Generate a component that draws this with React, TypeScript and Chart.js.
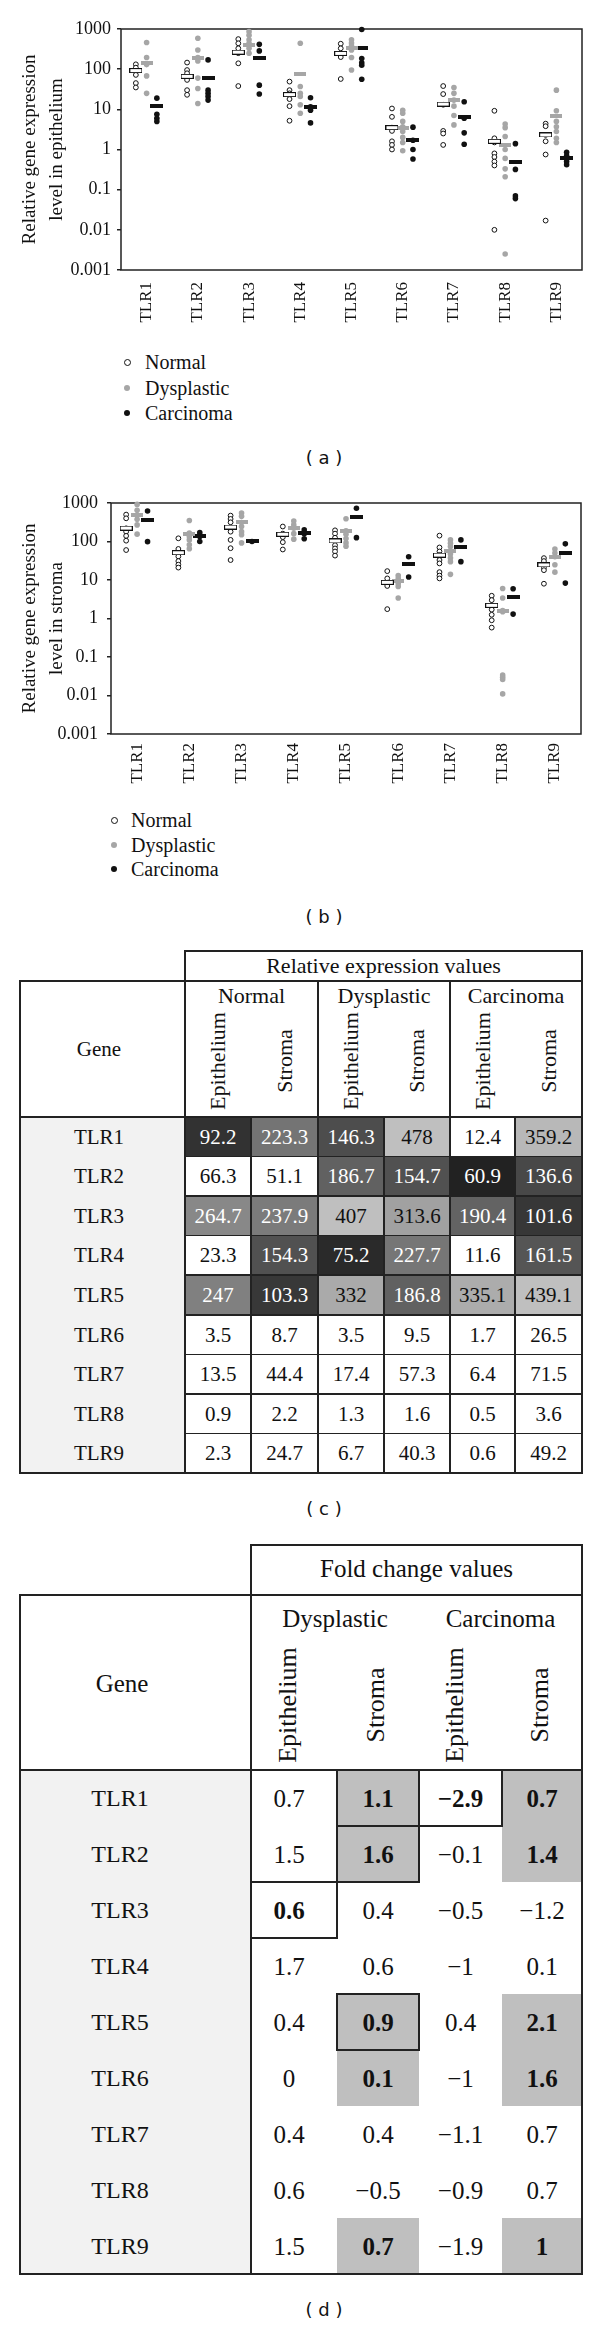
import React, { useEffect, useRef } from 'react';
import { Chart, registerables } from 'chart.js';

Chart.register(...registerables);

const SERIF = '"Liberation Serif", "Times New Roman", serif';
const SANS = '"DejaVu Sans", "Liberation Sans", sans-serif';
const INK = '#111';

// ---------- categories / ticks ----------
const categories = ['TLR1', 'TLR2', 'TLR3', 'TLR4', 'TLR5', 'TLR6', 'TLR7', 'TLR8', 'TLR9'];
const yTickValues = [0.001, 0.01, 0.1, 1, 10, 100, 1000];
const yTickLabels = ['0.001', '0.01', '0.1', '1', '10', '100', '1000'];
const groupNames = ['Normal', 'Dysplastic', 'Carcinoma'];
const tissueNames = ['Epithelium', 'Stroma'];

// ---------- individual samples, epithelium (panel a) ----------
const epiNormal = [
  [132, 109, 72, 45, 35],
  [146, 95, 79, 54, 30, 23],
  [560, 440, 330, 250, 140, 38],
  [49, 30, 25, 18, 12, 5.2],
  [430, 330, 240, 200, 57],
  [10.5, 6.5, 3.5, 2.9, 1.6, 1.3, 1.0],
  [38, 24, 13, 2.9, 2.5, 1.3],
  [9.2, 1.9, 1.5, 0.8, 0.65, 0.5, 0.4, 0.01],
  [4.4, 3.8, 2.3, 1.6, 0.75, 0.017],
];
const epiDysplastic = [
  [460, 195, 130, 68, 25],
  [590, 300, 195, 160, 60, 33, 14],
  [860, 700, 540, 440, 330, 250],
  [440, 37, 25, 21, 13, 8],
  [540, 450, 380, 300, 195, 95],
  [9.5, 8, 5, 3.7, 2.8, 2, 1.5, 0.93],
  [35, 25, 17, 12, 7, 4.1],
  [4.3, 3.5, 2.1, 1.0, 0.6, 0.33, 0.21, 0.0025],
  [30, 9.2, 5, 3.7, 2.8, 1.9, 1.5],
];
const epiCarcinoma = [
  [19, 7.5, 6, 5],
  [170, 30, 25, 21, 17],
  [415, 285, 40, 24],
  [19.5, 11.5, 9.5, 4.6],
  [970, 185, 145, 125, 56],
  [3.6, 1.7, 1.0, 0.58],
  [15.5, 6, 2.6, 1.35],
  [1.4, 0.32, 0.07, 0.06],
  [0.85, 0.7, 0.5, 0.42],
];

// ---------- individual samples, stroma (panel b) ----------
const stromaNormal = [
  [500, 400, 220, 180, 140, 105, 60],
  [121, 64, 50, 41, 31, 25, 21],
  [470, 385, 315, 230, 180, 110, 67, 33],
  [245, 160, 130, 96, 62],
  [195, 160, 125, 103, 80, 66, 55, 43],
  [17, 11, 8.5, 7, 1.75],
  [142, 70, 55, 45, 33, 27, 16, 13, 11],
  [3.9, 3, 2.2, 1.7, 1.25, 0.9, 0.58],
  [37, 31, 25, 21, 18, 8],
];
const stromaDysplastic = [
  [920, 650, 480, 380, 270, 155],
  [350, 165, 135, 110, 82, 65],
  [550, 450, 310, 245, 180, 150, 92],
  [340, 270, 220, 160, 115],
  [390, 190, 155, 120, 92, 75],
  [13, 11, 9.5, 8, 6.8, 3.4],
  [110, 90, 74, 57, 47, 37, 30, 14],
  [6, 3.4, 1.6, 1.5, 0.034, 0.03, 0.026, 0.011],
  [64, 50, 40, 25, 16],
];
const stromaCarcinoma = [
  [620, 99],
  [170, 135, 100],
  [100],
  [200, 160, 118],
  [730, 126],
  [40, 12],
  [110, 30],
  [5.9, 1.3],
  [87, 8.3],
];

// ---------- mean bars ----------
const meanEpiNormal = [92.2, 66.3, 264.7, 23.3, 247, 3.5, 13.5, 1.6, 2.3];

// ---------- relative expression values (table c, also the mean bars) ----------
const normalEpithelium = [92.2, 66.3, 264.7, 23.3, 247, 3.5, 13.5, 0.9, 2.3];
const normalStroma = [223.3, 51.1, 237.9, 154.3, 103.3, 8.7, 44.4, 2.2, 24.7];
const dysplasticEpithelium = [146.3, 186.7, 407, 75.2, 332, 3.5, 17.4, 1.3, 6.7];
const dysplasticStroma = [478, 154.7, 313.6, 227.7, 186.8, 9.5, 57.3, 1.6, 40.3];
const carcinomaEpithelium = [12.4, 60.9, 190.4, 11.6, 335.1, 1.7, 6.4, 0.5, 0.6];
const carcinomaStroma = [359.2, 136.6, 101.6, 161.5, 439.1, 26.5, 71.5, 3.6, 49.2];
const expressionShaded = [
  [1, 1, 1, 1, 0, 1],
  [0, 0, 1, 1, 1, 1],
  [1, 1, 1, 1, 1, 1],
  [0, 1, 1, 1, 0, 1],
  [1, 1, 1, 1, 1, 1],
  [0, 0, 0, 0, 0, 0],
  [0, 0, 0, 0, 0, 0],
  [0, 0, 0, 0, 0, 0],
  [0, 0, 0, 0, 0, 0],
];

// ---------- fold change values (table d) ----------
const foldDysplasticEpithelium = [0.7, 1.5, 0.6, 1.7, 0.4, 0, 0.4, 0.6, 1.5];
const foldDysplasticStroma = [1.1, 1.6, 0.4, 0.6, 0.9, 0.1, 0.4, -0.5, 0.7];
const foldCarcinomaEpithelium = [-2.9, -0.1, -0.5, -1, 0.4, -1, -1.1, -0.9, -1.9];
const foldCarcinomaStroma = [0.7, 1.4, -1.2, 0.1, 2.1, 1.6, 0.7, 0.7, 1];
const foldBold = [
  [0, 1, 1, 1], [0, 1, 0, 1], [1, 0, 0, 0], [0, 0, 0, 0], [0, 1, 0, 1],
  [0, 1, 0, 1], [0, 0, 0, 0], [0, 0, 0, 0], [0, 1, 0, 1],
];
const foldShaded = [
  [0, 1, 0, 1], [0, 1, 0, 1], [0, 0, 0, 0], [0, 0, 0, 0], [0, 1, 0, 1],
  [0, 1, 0, 1], [0, 0, 0, 0], [0, 0, 0, 0], [0, 1, 0, 1],
];
const foldBoxed = [
  [0, 1, 1, 0], [0, 1, 0, 0], [1, 0, 0, 0], [0, 0, 0, 0], [0, 1, 0, 0],
  [0, 0, 0, 0], [0, 0, 0, 0], [0, 0, 0, 0], [0, 0, 0, 0],
];

// ---------- helpers ----------
const GRAY_DOT = '#a6a6a6';
const offsets = [-0.21, 0, 0.2];

function markCanvas(fill: string, stroke: string | null, w: number, h: number) {
  const c = document.createElement('canvas');
  c.width = w;
  c.height = h;
  const g = c.getContext('2d')!;
  g.fillStyle = fill;
  g.fillRect(0, 0, w, h);
  if (stroke) {
    g.strokeStyle = stroke;
    g.lineWidth = 1;
    g.strokeRect(0.5, 0.5, w - 1, h - 1);
  }
  return c;
}

const framePlugin = {
  id: 'frame',
  beforeDatasetsDraw(chart: any) {
    const { ctx, chartArea: a } = chart;
    ctx.save();
    ctx.strokeStyle = '#222';
    ctx.lineWidth = 1.5;
    ctx.strokeRect(a.left, a.top, a.right - a.left, a.bottom - a.top);
    ctx.restore();
  },
};

type PanelProps = {
  top: number;
  height: number;
  yWidth: number;
  rightPad: number;
  topPad: number;
  tickPad: number;
  xPad: number;
  title: string[];
  normal: number[][];
  dysplastic: number[][];
  carcinoma: number[][];
  meanN: number[];
  meanD: number[];
  meanC: number[];
};

function ScatterPanel(p: PanelProps) {
  const ref = useRef<HTMLCanvasElement>(null);
  useEffect(() => {
    const pts = (groups: number[][], off: number) =>
      groups.flatMap((vals, i) => vals.map((v) => ({ x: i + 1 + off, y: v })));
    const means = (vals: number[], off: number) => vals.map((v, i) => ({ x: i + 1 + off, y: v }));
    const chart = new Chart(ref.current!, {
      type: 'scatter',
      data: {
        datasets: [
          { label: 'mN', data: means(p.meanN, offsets[0]), pointStyle: markCanvas('#fff', '#111', 13, 5) as any, order: 0, clip: false as any },
          { label: 'mD', data: means(p.meanD, offsets[1]), pointStyle: markCanvas(GRAY_DOT, null, 12, 4) as any, order: 0, clip: false as any },
          { label: 'mC', data: means(p.meanC, offsets[2]), pointStyle: markCanvas('#111', null, 13, 4) as any, order: 0, clip: false as any },
          { label: groupNames[0], data: pts(p.normal, offsets[0]), pointRadius: 2.4, borderWidth: 1, borderColor: INK, backgroundColor: '#fff', order: 1, clip: false as any },
          { label: groupNames[1], data: pts(p.dysplastic, offsets[1]), pointRadius: 2.8, borderWidth: 0, backgroundColor: GRAY_DOT, borderColor: GRAY_DOT, order: 1, clip: false as any },
          { label: groupNames[2], data: pts(p.carcinoma, offsets[2]), pointRadius: 2.8, borderWidth: 0, backgroundColor: INK, borderColor: INK, order: 1, clip: false as any },
        ],
      },
      options: {
        responsive: false,
        animation: false,
        events: [],
        layout: { padding: { top: p.topPad, right: p.rightPad, bottom: 0, left: 0 } },
        plugins: { legend: { display: false }, tooltip: { enabled: false } },
        scales: {
          x: {
            type: 'linear',
            min: 0.5,
            max: 9.5,
            afterBuildTicks: (s: any) => {
              s.ticks = categories.map((_, i) => ({ value: i + 1 }));
            },
            afterFit: (s: any) => {
              s.height = 60;
            },
            ticks: {
              callback: (_v: any, i: number) => categories[i],
              autoSkip: false,
              minRotation: 90,
              maxRotation: 90,
              padding: p.xPad,
              color: INK,
              font: { family: SERIF, size: 17 },
            },
            grid: { display: false, drawTicks: false },
            border: { display: false },
          },
          y: {
            type: 'logarithmic',
            min: 0.001,
            max: 1000,
            afterBuildTicks: (s: any) => {
              s.ticks = yTickValues.map((v) => ({ value: v }));
            },
            afterFit: (s: any) => {
              s.width = p.yWidth;
            },
            ticks: {
              callback: (_v: any, i: number) => yTickLabels[i],
              autoSkip: false,
              padding: p.tickPad,
              color: INK,
              font: { family: SERIF, size: 18 },
            },
            grid: { drawOnChartArea: false, drawTicks: true, tickLength: 4, color: '#222', lineWidth: 1.5 },
            border: { display: false },
            title: {
              display: true,
              text: p.title,
              color: INK,
              font: { family: SERIF, size: 19, lineHeight: 1.42 },
              padding: { top: 17, bottom: 0 },
            },
          },
        },
      } as any,
      plugins: [framePlugin],
    });
    return () => chart.destroy();
  }, []);
  return (
    <canvas
      ref={ref}
      width={600}
      height={p.height}
      style={{ position: 'absolute', left: 0, top: p.top, width: 600, height: p.height, display: 'block' }}
    />
  );
}

function Txt(props: {
  x: number; y: number; text: string; size: number; bold?: boolean; rot?: boolean; color?: string; family?: string;
}) {
  return (
    <div
      style={{
        position: 'absolute',
        left: props.x,
        top: props.y,
        transform: `translate(-50%, -50%)${props.rot ? ' rotate(-90deg)' : ''}`,
        fontFamily: props.family || SERIF,
        fontSize: props.size,
        lineHeight: 1,
        whiteSpace: 'nowrap',
        fontWeight: props.bold ? 'bold' : 'normal',
        color: props.color || INK,
      }}
    >
      {props.text}
    </div>
  );
}

const LW = 1.5;
const hLine = (key: string, x1: number, x2: number, y: number) => (
  <div key={key} style={{ position: 'absolute', left: x1 - LW / 2, top: y - LW / 2, width: x2 - x1 + LW, height: LW, background: '#222' }} />
);
const vLine = (key: string, x: number, y1: number, y2: number) => (
  <div key={key} style={{ position: 'absolute', left: x - LW / 2, top: y1 - LW / 2, width: LW, height: y2 - y1 + LW, background: '#222' }} />
);

function Legend({ x, textX, ys }: { x: number; textX: number; ys: number[] }) {
  const styles = [
    { background: '#fff', border: `1px solid ${INK}`, size: 5 },
    { background: GRAY_DOT, border: 'none', size: 6 },
    { background: INK, border: 'none', size: 6 },
  ];
  return (
    <>
      {groupNames.map((g, i) => (
        <React.Fragment key={g}>
          <div
            style={{
              position: 'absolute',
              left: x - styles[i].size / 2 - (i === 0 ? 1 : 0),
              top: ys[i] - styles[i].size / 2 - (i === 0 ? 1 : 0),
              width: styles[i].size,
              height: styles[i].size,
              borderRadius: '50%',
              background: styles[i].background,
              border: styles[i].border,
            }}
          />
          <div
            style={{
              position: 'absolute',
              left: textX,
              top: ys[i],
              transform: 'translateY(-50%)',
              fontFamily: SERIF,
              fontSize: 20,
              lineHeight: 1,
              color: INK,
              whiteSpace: 'nowrap',
            }}
          >
            {g}
          </div>
        </React.Fragment>
      ))}
    </>
  );
}

const shadeFor = (v: number) => Math.round(Math.min(191, 34 + (v - 60) * 0.5));
const fmtFold = (v: number) => (v < 0 ? '\u2212' + String(Math.abs(v)) : String(v));

function TableC() {
  const L = 20, R = 582, hdrTop = 951, top = 981, dataTop = 1117, bottom = 1473;
  const cols = [185, 251, 318, 384, 450, 515, 582];
  const rowH = (bottom - dataTop) / categories.length;
  const els: React.ReactNode[] = [];
  els.push(<div key="gbg" style={{ position: 'absolute', left: L, top: dataTop, width: cols[0] - L, height: bottom - dataTop, background: '#f2f2f2' }} />);
  categories.forEach((g, r) => {
    const vals = [normalEpithelium[r], normalStroma[r], dysplasticEpithelium[r], dysplasticStroma[r], carcinomaEpithelium[r], carcinomaStroma[r]];
    const y = dataTop + r * rowH;
    els.push(<Txt key={'g' + r} x={99} y={y + rowH / 2} text={g} size={21} />);
    vals.forEach((v, c) => {
      const shaded = expressionShaded[r][c] === 1;
      const gray = shadeFor(v);
      const bg = shaded ? `rgb(${gray},${gray},${gray})` : '#fff';
      const fg = shaded && gray < 150 ? '#fff' : INK;
      els.push(<div key={`c${r}-${c}`} style={{ position: 'absolute', left: cols[c], top: y, width: cols[c + 1] - cols[c], height: rowH, background: bg }} />);
      els.push(<Txt key={`t${r}-${c}`} x={(cols[c] + cols[c + 1]) / 2} y={y + rowH / 2} text={String(v)} size={21} color={fg} />);
    });
  });
  els.push(<Txt key="hdr" x={(cols[0] + R) / 2} y={(hdrTop + top) / 2} text="Relative expression values" size={22} />);
  els.push(<Txt key="gene" x={99} y={(top + dataTop) / 2} text="Gene" size={21} />);
  groupNames.forEach((gname, gi) => {
    const x1 = cols[gi * 2], x2 = cols[gi * 2 + 2];
    els.push(<Txt key={'gn' + gi} x={(x1 + x2) / 2} y={996} text={gname} size={22} />);
    tissueNames.forEach((t, ti) => {
      const cx = (cols[gi * 2 + ti] + cols[gi * 2 + ti + 1]) / 2;
      els.push(<Txt key={`tn${gi}-${ti}`} x={cx} y={1061} text={t} size={22} rot />);
    });
  });
  els.push(hLine('h0', cols[0], R, hdrTop));
  els.push(vLine('v0', cols[0], hdrTop, bottom));
  els.push(vLine('vR', R, hdrTop, bottom));
  els.push(hLine('h1', L, R, top));
  els.push(hLine('hb', L, R, bottom));
  els.push(vLine('vL', L, top, bottom));
  els.push(hLine('hd', L, R, dataTop));
  [cols[2], cols[4]].forEach((x, i) => els.push(vLine('vg' + i, x, top, bottom)));
  [cols[1], cols[3], cols[5]].forEach((x, i) => els.push(vLine('vc' + i, x, dataTop, bottom)));
  for (let r = 1; r < categories.length; r++) els.push(hLine('hr' + r, cols[0], R, dataTop + r * rowH));
  return <>{els}</>;
}

function TableD() {
  const L = 20, R = 582, hdrTop = 1545, top = 1595, dataTop = 1770, bottom = 2274;
  const cols = [251, 337, 419, 502, 582];
  const rowH = (bottom - dataTop) / categories.length;
  const els: React.ReactNode[] = [];
  els.push(<div key="gbg" style={{ position: 'absolute', left: L, top: dataTop, width: cols[0] - L, height: bottom - dataTop, background: '#f2f2f2' }} />);
  const boxes: React.ReactNode[] = [];
  categories.forEach((g, r) => {
    const vals = [foldDysplasticEpithelium[r], foldDysplasticStroma[r], foldCarcinomaEpithelium[r], foldCarcinomaStroma[r]];
    const y = dataTop + r * rowH;
    els.push(<Txt key={'g' + r} x={120} y={y + rowH / 2} text={g} size={24} />);
    vals.forEach((v, c) => {
      const x1 = cols[c], x2 = cols[c + 1];
      if (foldShaded[r][c]) {
        els.push(<div key={`s${r}-${c}`} style={{ position: 'absolute', left: x1, top: y, width: x2 - x1, height: rowH, background: '#bfbfbf' }} />);
      }
      if (foldBoxed[r][c]) {
        boxes.push(hLine(`bt${r}-${c}`, x1, x2, y));
        boxes.push(hLine(`bb${r}-${c}`, x1, x2, y + rowH));
        boxes.push(vLine(`bl${r}-${c}`, x1, y, y + rowH));
        boxes.push(vLine(`br${r}-${c}`, x2, y, y + rowH));
      }
      els.push(<Txt key={`t${r}-${c}`} x={(x1 + x2) / 2 - (c === 0 ? 5 : 0)} y={y + rowH / 2} text={fmtFold(v)} size={25} bold={foldBold[r][c] === 1} />);
    });
  });
  els.push(<Txt key="hdr" x={(cols[0] + R) / 2} y={1568} text="Fold change values" size={25} />);
  els.push(<Txt key="gene" x={122} y={1683} text="Gene" size={25} />);
  ['Dysplastic', 'Carcinoma'].forEach((gname, gi) => {
    const x1 = cols[gi * 2], x2 = cols[gi * 2 + 2];
    els.push(<Txt key={'gn' + gi} x={(x1 + x2) / 2} y={1618} text={gname} size={25} />);
    tissueNames.forEach((t, ti) => {
      const cx = (cols[gi * 2 + ti] + cols[gi * 2 + ti + 1]) / 2 - (ti === 0 ? 6 : 2);
      els.push(<Txt key={`tn${gi}-${ti}`} x={cx} y={1705} text={t} size={26} rot />);
    });
  });
  els.push(...boxes);
  els.push(hLine('h0', cols[0], R, hdrTop));
  els.push(vLine('v0', cols[0], hdrTop, bottom));
  els.push(vLine('vR', R, hdrTop, bottom));
  els.push(hLine('h1', L, R, top));
  els.push(hLine('hb', L, R, bottom));
  els.push(vLine('vL', L, top, bottom));
  els.push(hLine('hd', L, R, dataTop));
  return <>{els}</>;
}

export default function App() {
  return (
    <div style={{ position: 'absolute', left: 0, top: 0, width: 600, height: 2326, background: '#fff', overflow: 'hidden' }}>
      <ScatterPanel
        top={0}
        height={330}
        yWidth={121}
        rightPad={18}
        topPad={29}
        tickPad={6}
        xPad={12}
        title={['Relative gene expression', 'level in epithelium']}
        normal={epiNormal}
        dysplastic={epiDysplastic}
        carcinoma={epiCarcinoma}
        meanN={meanEpiNormal}
        meanD={dysplasticEpithelium}
        meanC={carcinomaEpithelium}
      />
      <Legend x={127} textX={145} ys={[362, 388, 413]} />
      <Txt x={324} y={458} text="( a )" size={18} family={SANS} />
      <ScatterPanel
        top={480}
        height={314}
        yWidth={111}
        rightPad={19}
        topPad={23}
        tickPad={9}
        xPad={9}
        title={['Relative gene expression', 'level in stroma']}
        normal={stromaNormal}
        dysplastic={stromaDysplastic}
        carcinoma={stromaCarcinoma}
        meanN={normalStroma}
        meanD={dysplasticStroma}
        meanC={carcinomaStroma}
      />
      <Legend x={114} textX={131} ys={[820, 845, 869]} />
      <Txt x={324} y={917} text="( b )" size={18} family={SANS} />
      <TableC />
      <Txt x={324} y={1509} text="( c )" size={18} family={SANS} />
      <TableD />
      <Txt x={324} y={2310} text="( d )" size={18} family={SANS} />
    </div>
  );
}
